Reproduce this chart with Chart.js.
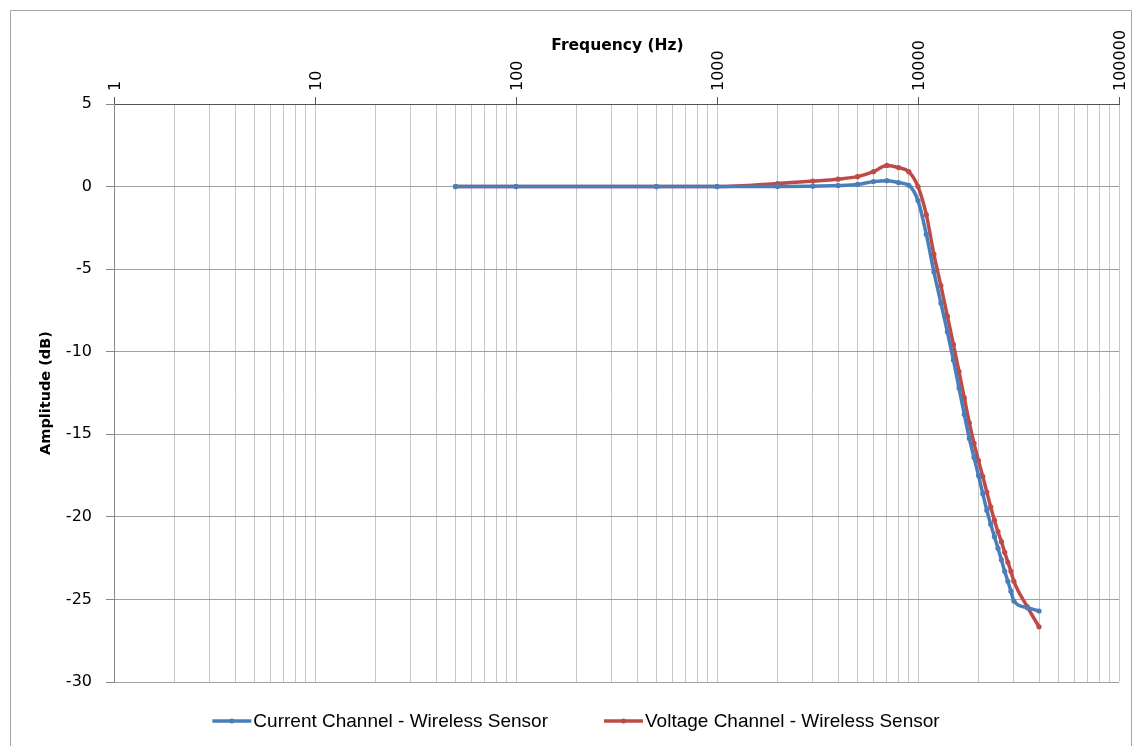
<!DOCTYPE html>
<html>
<head>
<meta charset="utf-8">
<title>Frequency response</title>
<script src="https://cdn.jsdelivr.net/npm/chart.js@4.4.1/dist/chart.umd.min.js"></script>
<style>
  html, body { margin: 0; padding: 0; background: #ffffff; }
  #wrap { position: relative; width: 1140px; height: 746px; }
  canvas { display: block; }
</style>
</head>
<body>
<div id="wrap"><canvas id="chart" width="1140" height="746"></canvas></div>
<script>
// Measured frequency points (Hz)
const freqHz = [50, 100, 500, 1000, 2000, 3000, 4000, 5000, 6000, 7000, 8000, 9000,
  10000, 11000, 12000, 13000, 14000, 15000, 16000, 17000, 18000, 19000, 20000,
  21000, 22000, 23000, 24000, 25000, 26000, 27000, 28000, 29000, 30000, 35000, 40000];

// Amplitude of the current channel (dB)
const currentDb = [0, 0, 0, 0, 0.0, 0.02, 0.06, 0.13, 0.3, 0.36, 0.24, 0.08,
  -0.85, -2.9, -5.16, -7.05, -8.8, -10.5, -12.2, -13.8, -15.25, -16.4, -17.5,
  -18.6, -19.6, -20.45, -21.2, -21.9, -22.6, -23.3, -23.9, -24.5, -25.1, -25.5, -25.7];

// Amplitude of the voltage channel (dB)
const voltageDb = [0, 0, 0, 0, 0.18, 0.33, 0.45, 0.6, 0.9, 1.28, 1.15, 0.9,
  0.0, -1.7, -4.1, -6.0, -7.85, -9.55, -11.2, -12.8, -14.3, -15.55, -16.6,
  -17.55, -18.5, -19.4, -20.2, -20.9, -21.5, -22.15, -22.75, -23.3, -23.9, -25.45, -26.66];

const seriesLabels = ['Current Channel - Wireless Sensor', 'Voltage Channel - Wireless Sensor'];
const seriesColors = ['#4a7ebb', '#be4b48'];

const xTitle = 'Frequency (Hz)';
const yTitle = 'Amplitude (dB)';
const xMin = 1, xMax = 100000;
const yMin = -30, yMax = 5, yStep = 5;

function toPoints(vals) {
  return freqHz.map((f, i) => ({ x: f, y: vals[i] }));
}

function isDecade(v) {
  const l = Math.log10(v);
  return Math.abs(l - Math.round(l)) < 1e-9;
}

// Outer frame of the chart
const framePlugin = {
  id: 'frame',
  beforeDraw(chart) {
    const ctx = chart.ctx;
    ctx.save();
    ctx.fillStyle = '#ffffff';
    ctx.fillRect(0, 0, chart.width, chart.height);
    ctx.strokeStyle = '#a6a6a6';
    ctx.lineWidth = 1;
    ctx.beginPath();
    ctx.moveTo(10.5, chart.height);
    ctx.lineTo(10.5, 10.5);
    ctx.lineTo(1131.5, 10.5);
    ctx.lineTo(1131.5, chart.height);
    ctx.stroke();
    ctx.restore();
  }
};

// Frequency axis title, sitting among the rotated decade labels
const topTitlePlugin = {
  id: 'topTitle',
  afterDraw(chart) {
    const a = chart.chartArea;
    const ctx = chart.ctx;
    ctx.save();
    ctx.font = 'bold 15.5px "DejaVu Sans"';
    ctx.fillStyle = '#000000';
    ctx.textAlign = 'center';
    ctx.textBaseline = 'middle';
    ctx.fillText(xTitle, (a.left + a.right) / 2 + 1, 46);
    ctx.restore();
  }
};

// Legend row below the plot
const legendPlugin = {
  id: 'bottomLegend',
  afterDraw(chart) {
    const ctx = chart.ctx;
    ctx.save();
    ctx.font = '19px "Liberation Sans", Arial, sans-serif';
    ctx.textBaseline = 'middle';
    const lineW = 39, textGap = 2, itemGap = 56;
    const widths = chart.data.datasets.map(d => ctx.measureText(d.label).width);
    const total = widths.reduce((s, w) => s + lineW + textGap + w, 0) + itemGap * (widths.length - 1);
    let x = chart.width / 2 + 6 - total / 2;
    const y = 721;
    chart.data.datasets.forEach((d, i) => {
      ctx.strokeStyle = d.borderColor;
      ctx.lineWidth = 3.5;
      ctx.beginPath();
      ctx.moveTo(x, y);
      ctx.lineTo(x + lineW, y);
      ctx.stroke();
      ctx.fillStyle = d.borderColor;
      ctx.beginPath();
      ctx.arc(x + lineW / 2, y, 2.5, 0, Math.PI * 2);
      ctx.fill();
      ctx.fillStyle = '#000000';
      ctx.fillText(d.label, x + lineW + textGap, y + 1);
      x += lineW + textGap + widths[i] + itemGap;
    });
    ctx.restore();
  }
};

const datasets = [currentDb, voltageDb].map((vals, i) => ({
  label: seriesLabels[i],
  data: toPoints(vals),
  borderColor: seriesColors[i],
  backgroundColor: seriesColors[i],
  borderWidth: 3.5,
  pointRadius: 2.6,
  pointBorderWidth: 0,
  pointBackgroundColor: seriesColors[i],
  cubicInterpolationMode: 'monotone',
  fill: false
}));

new Chart(document.getElementById('chart'), {
  type: 'line',
  data: { datasets },
  options: {
    responsive: false,
    animation: false,
    devicePixelRatio: 1,
    layout: { padding: { left: 0, top: 0, right: 21, bottom: 64 } },
    plugins: {
      legend: { display: false },
      tooltip: { enabled: false },
      title: { display: false }
    },
    scales: {
      x: {
        type: 'logarithmic',
        position: 'top',
        min: xMin,
        max: xMax,
        afterBuildTicks(scale) {
          const ticks = [];
          for (let d = 0; d < 5; d++) {
            for (let m = 1; m <= 9; m++) {
              const v = m * Math.pow(10, d);
              ticks.push({ value: v, major: m === 1 });
            }
          }
          ticks.push({ value: xMax, major: true });
          scale.ticks = ticks;
        },
        afterFit(scale) { scale.height = 104; },
        ticks: {
          autoSkip: false,
          minRotation: 90,
          maxRotation: 90,
          padding: 6,
          labelOffset: 21,
          color: '#000000',
          font: { family: '"DejaVu Sans"', size: 16 },
          callback(value) { return isDecade(value) ? String(Math.round(value)) : ''; }
        },
        grid: {
          color: '#c6c6c6',
          lineWidth: 1,
          tickLength: 7,
          tickColor: (c) => (c.tick && isDecade(c.tick.value)) ? '#555555' : 'rgba(0,0,0,0)'
        },
        border: { display: true, color: '#555555', width: 1 }
      },
      y: {
        type: 'linear',
        position: 'left',
        min: yMin,
        max: yMax,
        afterFit(scale) { scale.width = 114; },
        ticks: {
          stepSize: yStep,
          padding: 14,
          color: '#000000',
          font: { family: '"DejaVu Sans"', size: 16 }
        },
        grid: {
          color: '#a0a0a0',
          lineWidth: 1,
          tickLength: 8,
          tickColor: '#888888'
        },
        border: { display: true, color: '#888888', width: 1 },
        title: {
          display: true,
          text: yTitle,
          color: '#000000',
          font: { family: '"DejaVu Sans"', size: 14.5, weight: 'bold' },
          padding: { top: 38, bottom: 0 }
        }
      }
    }
  },
  plugins: [framePlugin, topTitlePlugin, legendPlugin]
});
</script>
</body>
</html>
